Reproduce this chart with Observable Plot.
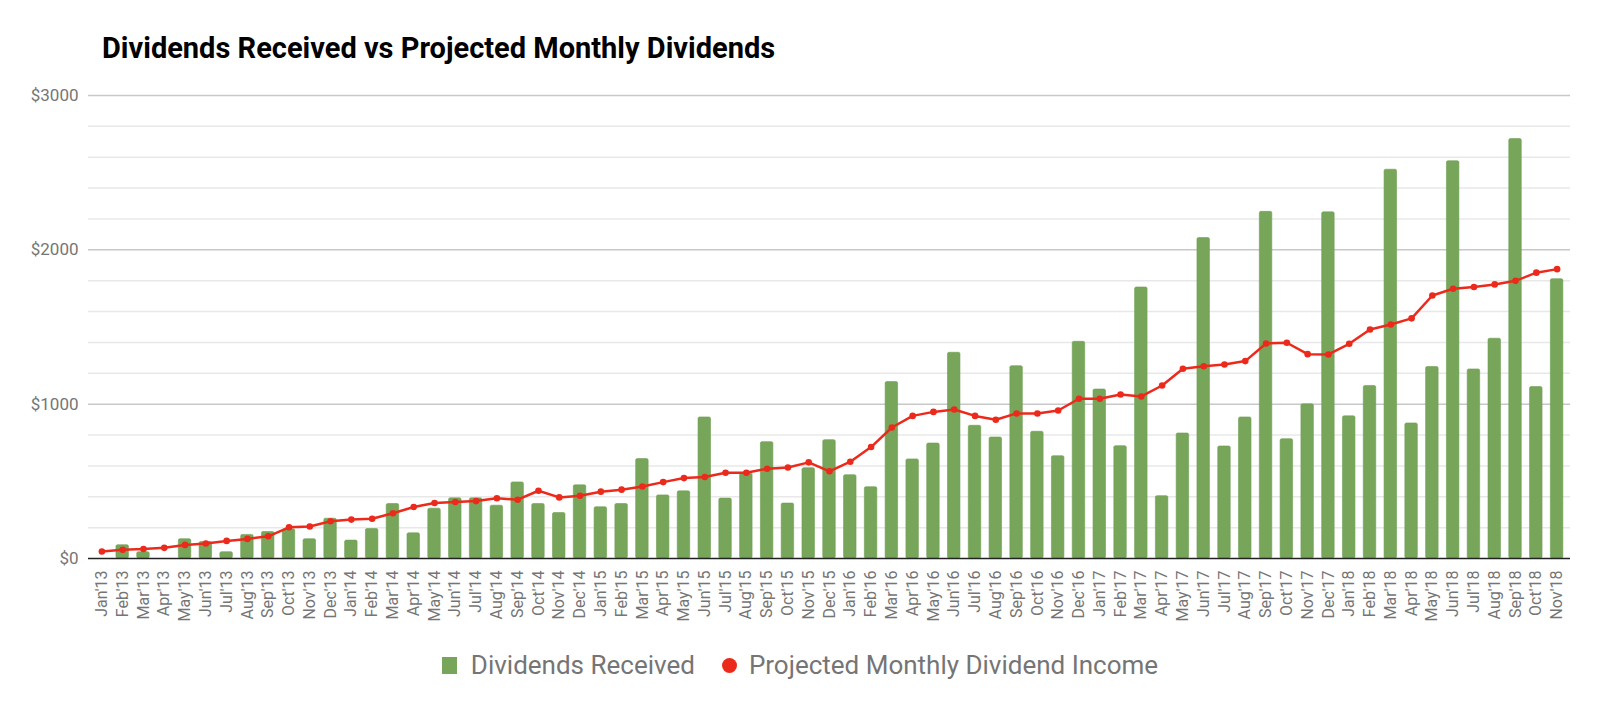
<!DOCTYPE html>
<html>
<head>
<meta charset="utf-8">
<script src="https://cdn.jsdelivr.net/npm/d3@7"></script>
<script src="https://cdn.jsdelivr.net/npm/@observablehq/plot@0.6"></script>
<style>
  html, body { margin: 0; padding: 0; background: #fff; }
  #wrap { position: relative; width: 1600px; height: 708px; font-family: Roboto, sans-serif; }
  #title { position: absolute; left: 102px; top: 31px; font-size: 29px; font-weight: 700; color: #000; line-height: 34px; white-space: nowrap; }
  #chart { position: absolute; left: 0; top: 0; }
  #legend { position: absolute; left: 0; width: 1600px; top: 650px; line-height: 30px; display: flex; justify-content: center; align-items: center; font-size: 26px; color: #757575; }
  .sw { display: inline-block; }
  .item { display: flex; align-items: center; }
</style>
</head>
<body>
<div id="wrap">
  <div id="chart"></div>
  <div id="title">Dividends Received vs Projected Monthly Dividends</div>
  <div id="legend">
    <div class="item"><span class="sw" style="width:15px;height:17px;background:#77a65b;margin-right:14px"></span><span>Dividends Received</span></div>
    <div class="item" style="margin-left:27px"><span class="sw" style="width:15px;height:15px;border-radius:50%;background:#ec2a1c;margin-right:12px"></span><span>Projected Monthly Dividend Income</span></div>
  </div>
</div>
<script>
const months = [
  "Jan'13","Feb'13","Mar'13","Apr'13","May'13","Jun'13","Jul'13","Aug'13","Sep'13","Oct'13","Nov'13","Dec'13",
  "Jan'14","Feb'14","Mar'14","Apr'14","May'14","Jun'14","Jul'14","Aug'14","Sep'14","Oct'14","Nov'14","Dec'14",
  "Jan'15","Feb'15","Mar'15","Apr'15","May'15","Jun'15","Jul'15","Aug'15","Sep'15","Oct'15","Nov'15","Dec'15",
  "Jan'16","Feb'16","Mar'16","Apr'16","May'16","Jun'16","Jul'16","Aug'16","Sep'16","Oct'16","Nov'16","Dec'16",
  "Jan'17","Feb'17","Mar'17","Apr'17","May'17","Jun'17","Jul'17","Aug'17","Sep'17","Oct'17","Nov'17","Dec'17",
  "Jan'18","Feb'18","Mar'18","Apr'18","May'18","Jun'18","Jul'18","Aug'18","Sep'18","Oct'18","Nov'18"
];
const received = [
  0, 86, 41, 0, 125, 107, 41, 153, 172, 189, 125, 258,
  116, 191, 353, 163, 323, 390, 390, 342, 493, 353, 295, 474,
  332, 353, 644, 409, 435, 914, 388, 551, 754, 356, 585, 767,
  540, 462, 1143, 642, 745, 1333, 860, 784, 1246, 821, 663, 1404,
  1095, 728, 1756, 404, 810, 2076, 726, 914, 2246, 773, 999, 2243,
  921, 1118, 2519, 875, 1241, 2574, 1225, 1424, 2718, 1111, 1810
];
const projected = [
  45, 56, 62, 69, 88, 97, 114, 127, 144, 202, 207, 241,
  252, 258, 293, 334, 360, 366, 372, 390, 381, 439, 396, 407,
  433, 446, 467, 495, 521, 528, 556, 556, 582, 590, 623, 565,
  627, 722, 849, 924, 950, 965, 924, 899, 940, 940, 959, 1035,
  1035, 1063, 1050, 1121, 1229, 1246, 1257, 1279, 1393, 1398, 1324, 1322,
  1391, 1484, 1516, 1556, 1704, 1748, 1759, 1776, 1799, 1852, 1875
];
const yTicks = [0, 1000, 2000, 3000];
const minorTicks = [200, 400, 600, 800, 1200, 1400, 1600, 1800, 2200, 2400, 2600, 2800];

const data = months.map((m, i) => ({month: m, received: received[i], projected: projected[i]}));

const chart = Plot.plot({
  width: 1600,
  height: 708,
  marginTop: 95,
  marginBottom: 150,
  marginLeft: 88,
  marginRight: 30,
  style: {fontFamily: "Roboto, sans-serif", background: "transparent", color: "#757575"},
  x: {type: "band", domain: months, paddingInner: 0.4, paddingOuter: 0.2, insetLeft: 3, insetRight: 3},
  y: {domain: [0, 3000]},
  marks: [
    Plot.ruleY(minorTicks, {stroke: "#e8e8e8", strokeWidth: 1.5}),
    Plot.ruleY(yTicks.filter(d => d > 0), {stroke: "#c8c8c8", strokeWidth: 1.5}),
    Plot.barY(data, {x: "month", y: "received", fill: "#77a65b", stroke: "#6f9d53", strokeWidth: 0.6, rx: 1.5}),
    Plot.ruleY([0], {stroke: "#222", strokeWidth: 1.5}),
    Plot.line(data, {x: "month", y: "projected", stroke: "#ec2a1c", strokeWidth: 2.5}),
    Plot.dot(data, {x: "month", y: "projected", fill: "#ec2a1c", r: 3.3}),
    Plot.axisY({ticks: yTicks, tickFormat: d => "$" + d, tickSize: 0, tickPadding: 10, fontSize: 17, label: null}),
    Plot.axisX({tickSize: 0, tickPadding: 12, tickRotate: -90, fontSize: 16, label: null})
  ]
});
document.getElementById("chart").appendChild(chart);
</script>
</body>
</html>
